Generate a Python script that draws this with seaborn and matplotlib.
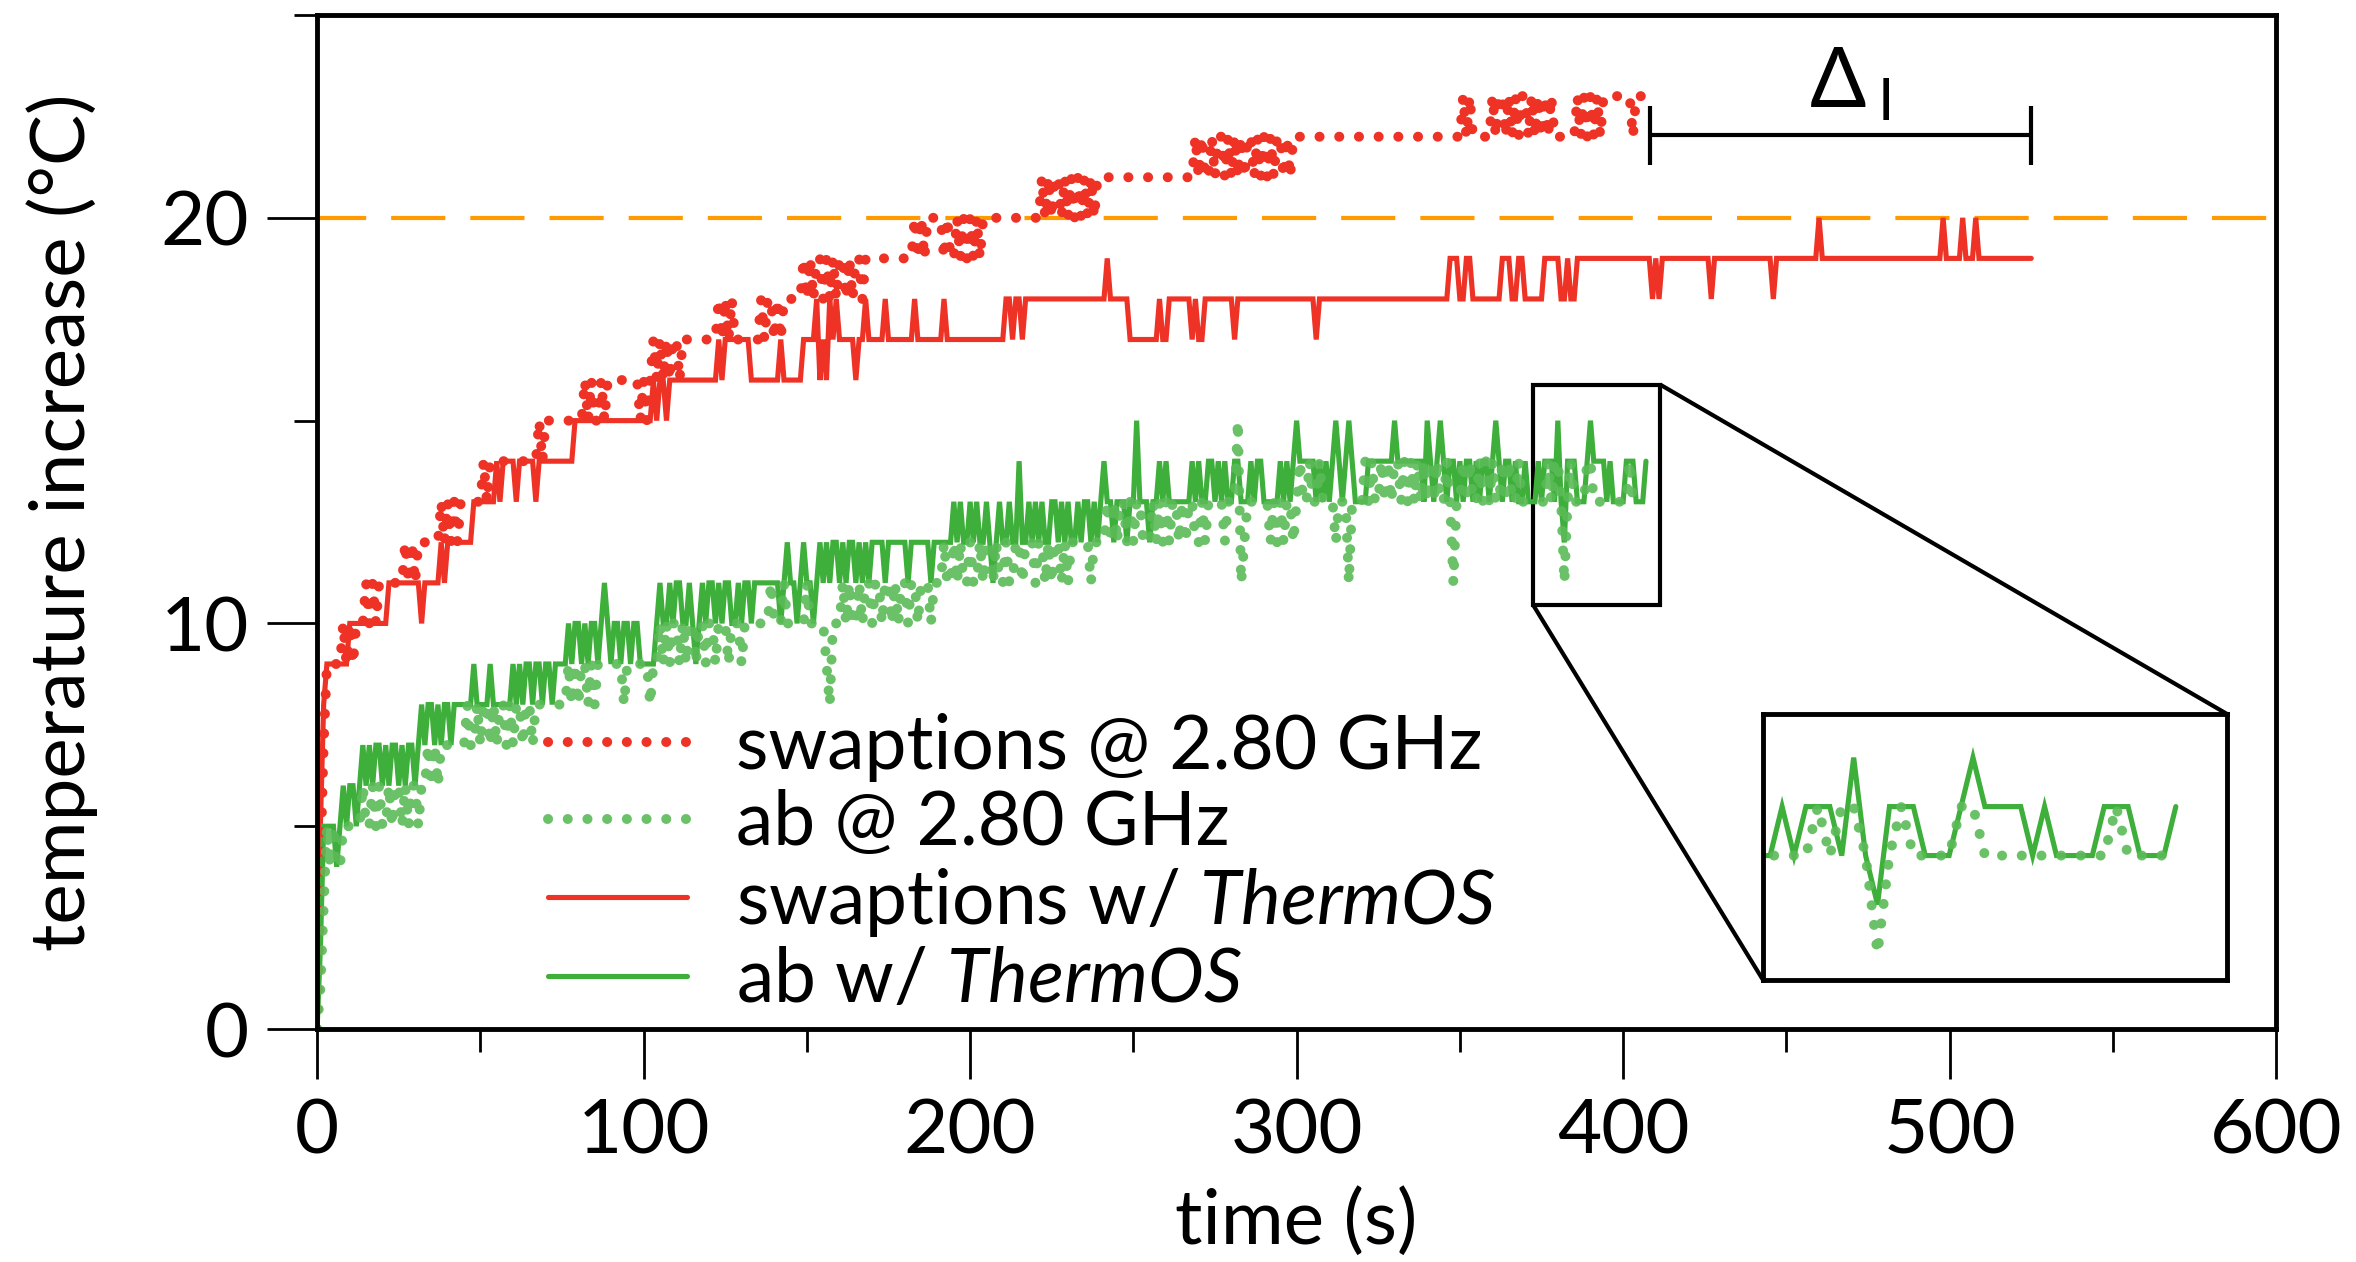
import numpy as np
import pandas as pd
import seaborn as sns
import matplotlib.pyplot as plt
from mpl_toolkits.axes_grid1.inset_locator import mark_inset

# swaptions runs: (temperature increase, seconds held), 1 s sampling
swp_fixed_runs = [
    (0, 1), (4, 1), (7, 1), (9, 5), (10, 1), (9, 1), (10, 1), (9, 1), (10, 3), (11, 1),
    (10, 1), (11, 1), (10, 1), (11, 8), (12, 1), (11, 1), (12, 1), (11, 1), (12, 7), (13, 1),
    (12, 1), (13, 1), (12, 1), (13, 1), (12, 1), (13, 7), (14, 1), (13, 1), (14, 15), (15, 1),
    (14, 1), (15, 12), (16, 1), (15, 1), (16, 1), (15, 2), (16, 1), (15, 1), (16, 10), (15, 1),
    (16, 1), (15, 1), (16, 1), (17, 1), (16, 1), (17, 1), (16, 1), (17, 1), (16, 1), (17, 2),
    (16, 1), (17, 11), (18, 1), (17, 1), (18, 1), (17, 1), (18, 1), (17, 8), (18, 1), (17, 1),
    (18, 2), (17, 1), (18, 1), (17, 1), (18, 6), (19, 1), (18, 1), (19, 1), (18, 1), (19, 2),
    (18, 1), (19, 1), (18, 1), (19, 1), (18, 1), (19, 2), (18, 1), (19, 1), (18, 1), (19, 2),
    (18, 1), (19, 15), (20, 1), (19, 1), (20, 1), (19, 1), (20, 5), (19, 1), (20, 1), (19, 2),
    (20, 1), (19, 1), (20, 1), (19, 1), (20, 1), (19, 1), (20, 1), (19, 1), (20, 18), (21, 1),
    (20, 1), (21, 1), (20, 1), (21, 2), (20, 1), (21, 1), (20, 1), (21, 1), (20, 1), (21, 1),
    (20, 1), (21, 1), (20, 1), (21, 1), (20, 1), (21, 30), (22, 1), (21, 1), (22, 1), (21, 2),
    (22, 1), (21, 1), (22, 2), (21, 1), (22, 1), (21, 1), (22, 1), (21, 1), (22, 1), (21, 1),
    (22, 2), (21, 1), (22, 1), (21, 1), (22, 1), (21, 1), (22, 1), (21, 1), (22, 2), (21, 1),
    (22, 1), (21, 1), (22, 52), (23, 1), (22, 1), (23, 1), (22, 6), (23, 1), (22, 1), (23, 2),
    (22, 1), (23, 1), (22, 1), (23, 1), (22, 1), (23, 2), (22, 1), (23, 1), (22, 1), (23, 1),
    (22, 1), (23, 1), (22, 1), (23, 1), (22, 7), (23, 1), (22, 1), (23, 1), (22, 1), (23, 1),
    (22, 1), (23, 1), (22, 1), (23, 9), (22, 1), (23, 5),
]

swp_thermos_runs = [
    (0, 1), (5, 1), (8, 1), (9, 7), (10, 12), (11, 10), (10, 1), (11, 5), (12, 1), (11, 1),
    (12, 8), (13, 7), (14, 1), (13, 1), (14, 4), (13, 1), (14, 5), (13, 1), (14, 11), (15, 24),
    (16, 1), (15, 1), (16, 2), (15, 1), (16, 15), (17, 1), (16, 1), (17, 8), (16, 9), (17, 1),
    (16, 6), (17, 4), (18, 1), (16, 1), (17, 1), (16, 1), (18, 1), (17, 1), (18, 1), (17, 5),
    (16, 1), (17, 2), (18, 1), (17, 5), (18, 1), (17, 8), (18, 1), (17, 8), (18, 1), (17, 18),
    (18, 2), (17, 1), (18, 2), (17, 1), (18, 25), (19, 1), (18, 6), (17, 9), (18, 1), (17, 2),
    (18, 7), (17, 1), (18, 1), (17, 2), (18, 9), (17, 1), (18, 24), (17, 1), (18, 40), (19, 3),
    (18, 2), (19, 2), (18, 9), (19, 3), (18, 2), (19, 2), (18, 6), (19, 5), (18, 2), (19, 1),
    (18, 2), (19, 23), (18, 1), (19, 1), (18, 1), (19, 15), (18, 1), (19, 18), (18, 1), (19, 13),
    (20, 1), (19, 37), (20, 1), (19, 5), (20, 1), (19, 3), (20, 1), (19, 17),
]

# ab, one reading per second
ab_fixed = [
    0, 1, 3, 5, 4, 5, 4, 4, 5, 5, 5, 5, 5, 5, 6, 5, 5, 6, 5, 6,
    5, 5, 6, 5, 6, 6, 5, 6, 5, 6, 6, 5, 6, 6, 7, 6, 7, 6, 7, 7,
    7, 7, 7, 7, 7, 7, 8, 7, 7, 8, 7, 8, 8, 7, 8, 7, 8, 8, 7, 8,
    7, 8, 8, 7, 8, 8, 7, 8, 8, 8, 8, 8, 8, 8, 8, 8, 8, 9, 8, 9,
    8, 9, 9, 8, 9, 8, 9, 9, 9, 9, 9, 9, 9, 9, 8, 9, 9, 9, 9, 9,
    9, 9, 8, 9, 9, 10, 9, 10, 9, 10, 10, 9, 10, 9, 10, 10, 9, 10, 10, 9,
    10, 10, 9, 10, 10, 10, 9, 10, 10, 10, 9, 10, 10, 10, 10, 10, 10, 10, 10, 11,
    10, 10, 10, 11, 10, 10, 10, 10, 10, 10, 11, 10, 10, 10, 10, 10, 9, 8, 10, 10,
    10, 11, 10, 11, 10, 10, 11, 10, 11, 11, 10, 11, 11, 10, 11, 11, 10, 11, 10, 11,
    11, 10, 11, 11, 10, 11, 11, 11, 10, 11, 11, 11, 12, 11, 11, 12, 11, 12, 11, 11,
    12, 11, 11, 12, 11, 12, 12, 11, 12, 11, 11, 12, 11, 11, 12, 12, 11, 12, 12, 12,
    11, 12, 12, 11, 12, 11, 12, 12, 11, 12, 11, 12, 12, 12, 12, 12, 12, 11, 12, 12,
    12, 12, 13, 12, 13, 12, 13, 13, 12, 13, 12, 13, 13, 12, 12, 12, 13, 12, 13, 12,
    13, 12, 13, 13, 12, 13, 12, 13, 13, 12, 12, 13, 12, 13, 13, 13, 13, 13, 12, 13,
    13, 13, 15, 11, 12, 13, 13, 13, 13, 13, 13, 13, 12, 13, 12, 13, 12, 13, 13, 12,
    13, 14, 13, 13, 14, 13, 13, 14, 13, 13, 13, 13, 12, 13, 13, 13, 11, 13, 13, 13,
    13, 14, 13, 14, 13, 13, 14, 13, 14, 13, 14, 14, 13, 14, 13, 14, 13, 14, 13, 14,
    13, 14, 13, 14, 13, 13, 14, 13, 11, 13, 13, 14, 13, 14, 13, 13, 14, 13, 14, 13,
    14, 13, 13, 14, 13, 14, 13, 13, 14, 13, 13, 13, 13, 13, 13, 13, 13, 14, 13, 14,
    14, 13, 11, 13, 14, 13, 13, 13, 13, 14, 14, 13, 13, 13, 13, 13, 13, 13, 13, 13,
    13, 13, 14, 13, 13, 13, 13,
]

ab_thermos = [
    0, 2, 5, 5, 5, 5, 4, 5, 6, 5, 6, 6, 5, 6, 7, 6, 7, 6, 7, 7,
    6, 7, 6, 7, 7, 6, 7, 6, 7, 7, 6, 7, 8, 7, 8, 8, 7, 8, 7, 8,
    8, 7, 8, 8, 8, 8, 8, 8, 9, 8, 8, 8, 8, 9, 8, 8, 8, 8, 8, 8,
    9, 8, 9, 8, 9, 9, 8, 9, 9, 8, 9, 9, 8, 9, 9, 9, 9, 10, 9, 10,
    10, 9, 10, 9, 10, 10, 9, 10, 11, 10, 9, 10, 10, 9, 10, 10, 9, 10, 10, 9,
    9, 9, 9, 9, 10, 11, 10, 10, 11, 10, 11, 11, 10, 10, 11, 10, 9, 10, 11, 10,
    11, 11, 10, 11, 10, 11, 11, 10, 10, 11, 10, 11, 11, 10, 11, 11, 11, 11, 11, 11,
    11, 11, 10, 11, 12, 11, 11, 10, 11, 12, 11, 11, 10, 11, 12, 11, 12, 11, 12, 12,
    11, 12, 11, 12, 12, 11, 12, 11, 12, 11, 12, 12, 12, 12, 11, 12, 12, 12, 12, 12,
    12, 11, 12, 12, 12, 12, 12, 12, 11, 12, 12, 12, 12, 12, 12, 13, 12, 13, 12, 12,
    13, 12, 13, 12, 12, 13, 12, 11, 12, 13, 12, 12, 13, 12, 12, 14, 12, 12, 13, 12,
    13, 12, 13, 12, 12, 13, 13, 12, 13, 12, 13, 12, 12, 13, 12, 13, 13, 12, 13, 12,
    13, 14, 13, 13, 12, 13, 13, 13, 12, 13, 13, 15, 13, 13, 13, 12, 13, 13, 14, 13,
    14, 13, 13, 13, 13, 13, 13, 13, 14, 13, 14, 13, 13, 14, 14, 13, 14, 13, 14, 13,
    13, 14, 14, 13, 13, 13, 14, 13, 14, 14, 13, 13, 13, 13, 13, 14, 13, 14, 13, 14,
    15, 14, 14, 14, 14, 14, 13, 14, 13, 14, 13, 14, 15, 14, 13, 14, 15, 14, 13, 13,
    13, 13, 14, 14, 14, 14, 14, 14, 14, 14, 15, 14, 14, 14, 14, 14, 14, 14, 14, 13,
    15, 14, 13, 14, 15, 14, 13, 14, 14, 13, 14, 13, 14, 14, 13, 14, 13, 14, 14, 13,
    14, 15, 14, 13, 14, 14, 13, 14, 13, 13, 14, 13, 13, 13, 14, 13, 14, 14, 14, 13,
    15, 13, 12, 14, 14, 14, 13, 13, 13, 14, 15, 14, 14, 14, 14, 13, 14, 13, 13, 13,
    13, 14, 14, 14, 13, 13, 13, 14,
]

labels = ['swaptions @ 2.80 GHz', 'ab @ 2.80 GHz',
          'swaptions w/ $\\mathit{ThermOS}$', 'ab w/ $\\mathit{ThermOS}$']
limit_temp = 20
delta_span = (408.3, 525)

RED = '#EE3326'
GREEN = '#3DAF3A'
GREEN_LIGHT = '#5BBB58'
ORANGE = '#FF9A00'


def expand(runs):
    return np.repeat([r[0] for r in runs], [r[1] for r in runs])


def frame(values):
    values = np.asarray(values)
    return pd.DataFrame({'time': np.arange(len(values)), 'temp': values})


swp_fixed = frame(expand(swp_fixed_runs))
swp_thermos = frame(expand(swp_thermos_runs))
ab_fix = frame(ab_fixed)
ab_th = frame(ab_thermos)

sns.set_style('ticks')
plt.rcParams['font.family'] = ['Lato', 'DejaVu Sans']
plt.rcParams['mathtext.fontset'] = 'custom'
plt.rcParams['mathtext.rm'] = 'Lato'
plt.rcParams['mathtext.it'] = 'Lato:italic'
for key in ['text.color', 'axes.labelcolor', 'xtick.color', 'ytick.color',
            'xtick.labelcolor', 'ytick.labelcolor']:
    plt.rcParams[key] = 'k'

FS = 55
dotted = dict(lw=7.2, linestyle=(0, (0.01, 1.96)), dash_capstyle='round')
solid = dict(lw=3.7, solid_joinstyle='miter')

fig = plt.figure(figsize=(23.56, 12.62), dpi=100)
ax = fig.add_axes([0.1346, 0.1846, 0.8315, 0.8035])


def draw(axis, legend=True):
    sns.lineplot(data=swp_thermos, x='time', y='temp', color=RED, estimator=None,
                 label=labels[2] if legend else None, ax=axis, **solid)
    sns.lineplot(data=ab_th, x='time', y='temp', color=GREEN, estimator=None,
                 label=labels[3] if legend else None, ax=axis, **solid)
    sns.lineplot(data=swp_fixed, x='time', y='temp', color=RED, estimator=None,
                 label=labels[0] if legend else None, ax=axis, **dotted)
    sns.lineplot(data=ab_fix, x='time', y='temp', color=GREEN_LIGHT, estimator=None,
                 alpha=0.9, label=labels[1] if legend else None, ax=axis, **dotted)


draw(ax)
ax.axhline(limit_temp, color=ORANGE, lw=3, linestyle=(1.2, (13, 6)), zorder=1)

ax.set_xlim(0, 600)
ax.set_ylim(0, 25)
ax.set_xticks(range(0, 601, 100))
ax.set_xticks(range(50, 600, 100), minor=True)
ax.set_yticks([0, 10, 20])
ax.set_yticks([5, 15, 25], minor=True)
ax.tick_params(axis='both', which='major', direction='out', length=36, width=2,
               pad=13, labelsize=FS, color='k')
ax.tick_params(axis='both', which='minor', direction='out', length=16.5, width=2, color='k')
for s in ax.spines.values():
    s.set_linewidth(3.5)
    s.set_color('k')

ax.set_xlabel('time (s)', fontsize=FS)
ax.set_ylabel('temperature increase (°C)', fontsize=FS)
ax.xaxis.set_label_coords(0.5, -0.156)
ax.yaxis.set_label_coords(-0.112, 0.5)

# delta marker
ax.hlines(22.03, delta_span[0], delta_span[1], color='k', lw=3)
ax.vlines(list(delta_span), 21.3, 22.75, color='k', lw=3)
ax.text(466, 22.72, 'Δ', fontsize=60, ha='center', va='baseline')
ax.text(480.5, 22.42, 'I', fontsize=42, ha='center', va='baseline')

handles, labs = ax.get_legend_handles_labels()
order = [labs.index(l) for l in labels]
ax.legend([handles[i] for i in order], [labs[i] for i in order],
          loc='upper left', bbox_to_anchor=(0.118, 0.312), frameon=False,
          fontsize=54, handlelength=1.85, handletextpad=0.65, labelspacing=0.1,
          borderpad=0, borderaxespad=0)

# zoomed inset
axins = fig.add_axes([0.7483, 0.2235, 0.197, 0.2107])
draw(axins, legend=False)
axins.set_xlim(372.4, 411.3)
axins.set_ylim(10.46, 15.89)
axins.set_xticks([])
axins.set_yticks([])
axins.set_xlabel('')
axins.set_ylabel('')
for s in axins.spines.values():
    s.set_linewidth(3.5)
    s.set_color('k')
mark_inset(ax, axins, loc1=1, loc2=3, fc='none', ec='k', lw=3)

fig.savefig('out.png', dpi=100)
